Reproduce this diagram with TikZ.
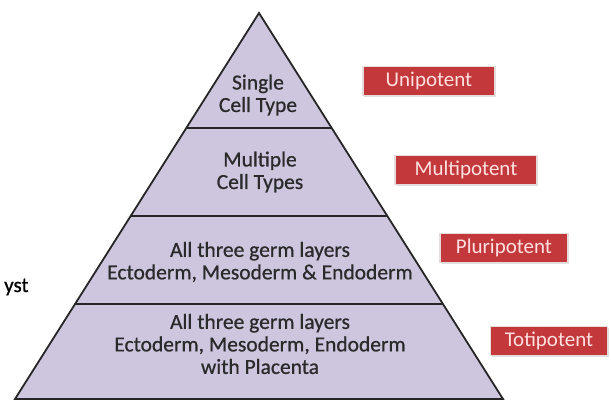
\documentclass[tikz,border=0pt]{standalone}
\usepackage{fontspec}
\setmainfont{Carlito}
\newfontfamily\layerfont{Carlito}[FakeBold=0.7]
\usepackage{xcolor}
\usepackage{tikz}
\usetikzlibrary{calc,shadows}
\definecolor{layerfill}{HTML}{CDC6DE}
\definecolor{edgegray}{HTML}{262626}
\definecolor{potred}{HTML}{C3393B}
\definecolor{potrim}{HTML}{E6DCDC}
\definecolor{textgray}{HTML}{2A2A2A}
\tikzset{
  layer/.style={fill=layerfill,draw=edgegray,line width=1.8pt,line join=miter},
  divider/.style={draw=edgegray,line width=1.8pt},
  layertext/.style={align=center,font=\layerfont\fontsize{21.5}{22.5}\selectfont,text=textgray,inner sep=0pt},
  potbox/.style={rectangle,draw=potrim,line width=1.2pt,fill=potred,text=white!88!red,
    minimum height=29pt,inner xsep=0pt,inner ysep=0pt,font=\fontsize{21}{22}\selectfont,
    drop shadow={shadow xshift=1pt,shadow yshift=-1.2pt,opacity=0.25}}
}

\begin{document}
\begin{tikzpicture}[x=1pt,y=-1pt]
  \useasboundingbox (0,0) rectangle (611,404);

  % pyramid outline
  \coordinate (apex) at (259,13);
  \coordinate (bl) at (15,399);
  \coordinate (br) at (503,399);
  \draw[layer] (apex) -- (bl) -- (br) -- cycle;

  % layer dividers
  \draw[divider] ($(apex)!0.298!(bl)$) -- ($(apex)!0.298!(br)$);
  \draw[divider] ($(apex)!0.526!(bl)$) -- ($(apex)!0.526!(br)$);
  \draw[divider] ($(apex)!0.754!(bl)$) -- ($(apex)!0.754!(br)$);

  % layer texts
  \node[layertext] (single) at (258,95) {Single\\Cell Type};
  \node[layertext] (multiple) at (260,172) {Multiple\\Cell Types};
  \node[layertext] (pluri) at (260,262) {All three germ layers\\Ectoderm, Mesoderm \& Endoderm};
  \node[layertext] (toti) at (260,344) {All three germ layers\\Ectoderm, Mesoderm, Endoderm\\with Placenta};

  % potency labels
  \node[potbox,minimum width=132pt] (uni) at (429,81) {Unipotent};
  \node[potbox,minimum width=142pt] (multi) at (466,170) {Multipotent};
  \node[potbox,minimum width=128pt] (plu) at (504,248) {Pluripotent};
  \node[potbox,minimum width=117pt] (tot) at (549,341) {Totipotent};

  % text cut at the left edge
  \node[anchor=base west,inner sep=0pt,font=\layerfont\fontsize{21}{22}\selectfont] (cyst) at (4,292) {yst};
\end{tikzpicture}
\end{document}
